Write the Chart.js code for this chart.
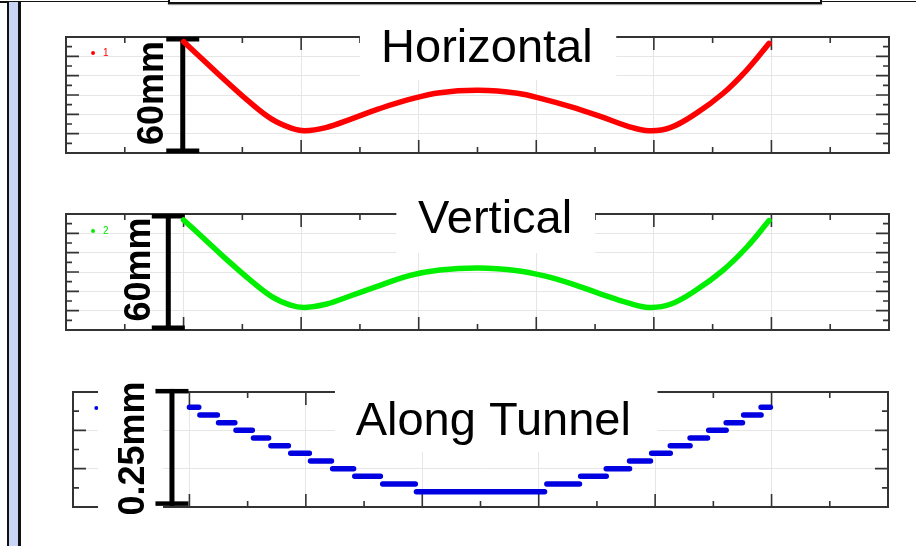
<!DOCTYPE html>
<html lang="en">
<head>
<meta charset="UTF-8">
<title>Horizontal / Vertical / Along Tunnel</title>
<style>
  body { margin: 0; background: #fff; font-family: "Liberation Sans", Arial, sans-serif; }
  .page { position: relative; width: 916px; height: 546px; overflow: hidden; background: #fff; }
  .page canvas { position: absolute; left: 0; }

  /* slide frame bits around the figure */
  .topline { position: absolute; left: 0; top: 1px; width: 916px; height: 1px; background: #111; }
  .corner { position: absolute; left: 0; top: 1px; width: 17px; height: 2px; background: #111; }
  .topbox { position: absolute; left: 168px; top: -20px; width: 650px; height: 20px; border: 2px solid #111; background: #fff; box-shadow: 0 1px 1px #999; }
  .strip { position: absolute; left: 7px; top: 2px; width: 9px; height: 560px; background: #c9d5f6; border-left: 2px solid #111; border-right: 3px solid #111; }
</style>
</head>
<body>
<div class="page">
  <div class="topline"></div>
  <div class="topbox"></div>
  <div class="corner"></div>
  <div class="strip"></div>
  <canvas id="hChart" width="916" height="180" style="top:0"></canvas>
  <canvas id="vChart" width="916" height="180" style="top:180px"></canvas>
  <canvas id="tChart" width="916" height="186" style="top:360px"></canvas>
</div>

<script src="https://cdn.jsdelivr.net/npm/chart.js"></script>
<script>
// x is in major-tick units along each panel
const curveX = [1.0, 1.17, 1.36, 1.56, 1.75, 1.91, 2.03, 2.21, 2.44, 2.66, 2.92, 3.18,
                3.51, 3.84, 4.06, 4.29, 4.55, 4.78, 4.96, 5.14, 5.36, 5.59, 5.79, 5.98];
// offsets in mm
const horizontalMM = [57.6, 48.0, 37.2, 26.4, 17.5, 13.0, 11.5, 13.1, 17.9, 22.8, 27.7, 31.2,
                      32.4, 30.9, 27.9, 24.0, 18.8, 13.8, 11.5, 13.1, 20.5, 30.9, 42.9, 56.7];
const verticalMM = [56.9, 47.5, 36.8, 26.2, 17.3, 12.9, 11.7, 13.3, 18.1, 22.8, 28.1, 31.0,
                    32.1, 30.7, 28.1, 24.1, 18.6, 14.0, 11.7, 13.3, 20.7, 31.0, 42.8, 56.6];

// along tunnel: quantised steps (start, end, level)
const stepStart = [0.99, 1.08, 1.24, 1.39, 1.54, 1.69, 1.86, 2.03, 2.22, 2.41, 2.65, 2.94,
                   4.06, 4.35, 4.57, 4.77, 4.96, 5.12, 5.29, 5.45, 5.60, 5.75, 5.90];
const stepEnd = [1.09, 1.25, 1.40, 1.55, 1.69, 1.86, 2.04, 2.23, 2.42, 2.65, 2.95, 4.06,
                 4.36, 4.59, 4.79, 4.97, 5.14, 5.31, 5.46, 5.62, 5.76, 5.92, 6.00];
const stepLevel = [13, 12, 11, 10, 9, 8, 7, 6, 5, 4, 3, 2,
                   3, 4, 5, 6, 7, 8, 9, 10, 11, 12, 13];

const FONT = '"Liberation Sans", Arial, sans-serif';

function toPoints(xs, ys) {
    return xs.map((x, i) => ({ x: x, y: ys[i] }));
}

// steps become short segments separated by gaps
const stepPoints = [];
stepStart.forEach((s, i) => {
    stepPoints.push({ x: s + 0.01, y: stepLevel[i] });
    stepPoints.push({ x: stepEnd[i] - 0.01, y: stepLevel[i] });
    stepPoints.push({ x: stepEnd[i], y: null });
});

// frame, inner ticks, label boxes, scale bar, small legend
const panelDecor = {
    id: 'panelDecor',
    beforeDatasetsDraw(chart, args, o) {
        const ctx = chart.ctx, a = chart.chartArea;
        const xs = chart.scales.x, ys = chart.scales.y;
        const X = v => xs.getPixelForValue(v);
        const Y = v => ys.getPixelForValue(v);
        ctx.save();

        // ticks pointing inward on all four sides
        ctx.strokeStyle = '#333';
        ctx.lineWidth = 1.6;
        ctx.beginPath();
        xs.ticks.forEach(t => {
            const p = X(t.value);
            if (p <= a.left + 1 || p >= a.right - 1) return;
            const len = t.value % o.xMajor === 0 ? 13 : 6;
            ctx.moveTo(p, a.bottom); ctx.lineTo(p, a.bottom - len);
            ctx.moveTo(p, a.top); ctx.lineTo(p, a.top + len);
        });
        ys.ticks.forEach(t => {
            const p = Y(t.value);
            if (p <= a.top + 1 || p >= a.bottom - 1) return;
            const len = t.value % o.yMajor === 0 ? 13 : 6;
            ctx.moveTo(a.left, p); ctx.lineTo(a.left + len, p);
            ctx.moveTo(a.right, p); ctx.lineTo(a.right - len, p);
        });
        ctx.stroke();
        ctx.lineWidth = 2;
        ctx.strokeRect(a.left, a.top, a.right - a.left, a.bottom - a.top);

        // tiny legend
        const ds = chart.data.datasets[0];
        ctx.fillStyle = ds.borderColor;
        ctx.beginPath();
        ctx.arc(X(o.legendAt[0]), Y(o.legendAt[1]), 2, 0, Math.PI * 2);
        ctx.fill();
        ctx.font = '10px ' + FONT;
        ctx.textBaseline = 'middle';
        ctx.fillText(ds.label, X(o.legendAt[0]) + 10, Y(o.legendAt[1]));

        // white boxes behind the labels
        ctx.fillStyle = '#fff';
        o.boxes.forEach(b => {
            ctx.fillRect(X(b[0]), Y(b[2]), X(b[1]) - X(b[0]), Y(b[3]) - Y(b[2]));
        });

        // panel title
        ctx.fillStyle = '#000';
        ctx.font = '47px ' + FONT;
        ctx.textAlign = 'center';
        ctx.textBaseline = 'alphabetic';
        ctx.fillText(o.title, X(o.titleAt[0]), Y(o.titleAt[1]));

        // scale bar
        const bx = X(o.bar[0]), bt = Y(o.bar[1]), bb = Y(o.bar[2]);
        ctx.fillRect(bx - 2.5, bt, 5, bb - bt);
        ctx.fillRect(bx - 16.5, bt, 33, 4.5);
        ctx.fillRect(bx - 16.5, bb - 4.5, 33, 4.5);

        // rotated scale label
        ctx.translate(X(o.barLabelAt[0]), Y(o.barLabelAt[1]));
        ctx.rotate(-Math.PI / 2);
        ctx.font = 'bold 36px ' + FONT;
        ctx.fillText(o.barLabel, 0, 13);
        ctx.restore();
    }
};

function makePanel(id, label, color, points, yMax, yStep, yMajor, padding, decor) {
    return new Chart(document.getElementById(id), {
        type: 'scatter',
        data: {
            datasets: [{
                label: label,
                data: points,
                showLine: true,
                borderColor: color,
                backgroundColor: color,
                borderWidth: 5.5,
                borderCapStyle: 'round',
                borderJoinStyle: 'round',
                pointRadius: 0,
                tension: 0.4,
                spanGaps: false
            }]
        },
        options: {
            responsive: false,
            animation: false,
            layout: { padding: padding },
            scales: {
                x: {
                    type: 'linear', min: 0, max: 7,
                    ticks: { display: false, stepSize: 0.5 },
                    border: { display: false },
                    grid: {
                        drawTicks: false, lineWidth: 1,
                        color: c => c.tick && c.tick.value % 1 === 0 ? '#e6e6e6' : 'rgba(0,0,0,0)'
                    },
                    afterFit: s => { s.height = 0; }
                },
                y: {
                    type: 'linear', min: 0, max: yMax,
                    ticks: { display: false, stepSize: yStep },
                    border: { display: false },
                    grid: {
                        drawTicks: false, lineWidth: 1,
                        color: c => c.tick && c.tick.value % yMajor === 0 ? '#e6e6e6' : 'rgba(0,0,0,0)'
                    },
                    afterFit: s => { s.width = 0; }
                }
            },
            plugins: {
                legend: { display: false },
                tooltip: { enabled: false },
                panelDecor: Object.assign({ xMajor: 1, yMajor: yMajor }, decor)
            }
        },
        plugins: [panelDecor]
    });
}

makePanel('hChart', '1', '#ff0000', toPoints(curveX, horizontalMM), 60, 5, 10,
    { left: 66, right: 27, top: 37, bottom: 27 },
    {
        title: 'Horizontal', titleAt: [3.58, 47.1],
        boxes: [[2.50, 4.68, 68.8, 37.8]],
        bar: [0.993, 60, 0], barLabel: '60mm', barLabelAt: [0.714, 31.0],
        legendAt: [0.23, 51.7]
    });

makePanel('vChart', '2', '#00ee00', toPoints(curveX, verticalMM), 60, 5, 10,
    { left: 66, right: 27, top: 34, bottom: 30 },
    {
        title: 'Vertical', titleAt: [3.65, 50.2],
        boxes: [[2.81, 4.50, 71.4, 39.8]],
        bar: [0.87, 60, 0], barLabel: '60mm', barLabelAt: [0.60, 31.3],
        legendAt: [0.23, 51.2]
    });

makePanel('tChart', '3', '#0000e0', stepPoints, 15, 2.5, 5,
    { left: 73, right: 28, top: 32, bottom: 39 },
    {
        title: 'Along Tunnel', titleAt: [3.61, 9.39],
        boxes: [[0.215, 0.773, 15.9, -0.65], [2.25, 5.02, 15.9, 7.17]],
        bar: [0.85, 15.4, 0.15], barLabel: '0.25mm', barLabelAt: [0.50, 7.63],
        legendAt: [0.20, 12.9]
    });
</script>
</body>
</html>
